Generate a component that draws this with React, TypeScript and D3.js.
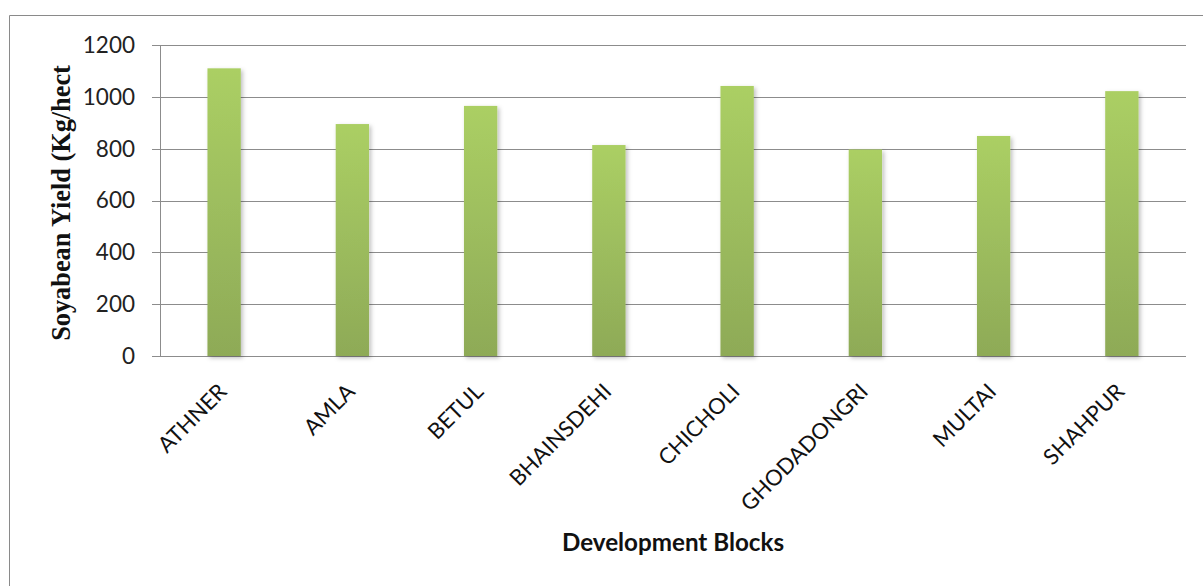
import React from "react";
import * as d3 from "d3";

const categories = ["ATHNER", "AMLA", "BETUL", "BHAINSDEHI", "CHICHOLI", "GHODADONGRI", "MULTAI", "SHAHPUR"];
const yieldValues = [1110, 895, 965, 814, 1042, 797, 849, 1022];
const yTicks = [0, 200, 400, 600, 800, 1000, 1200];
const yTitle = "Soyabean Yield (Kg/hect";
const xTitle = "Development Blocks";

const W = 1203;
const H = 586;
const plot = { left: 160, right: 1186, top: 45, bottom: 356 };

export default function App() {
  const x = d3.scaleBand<string>().domain(categories).range([plot.left, plot.right]).paddingInner(0.74).paddingOuter(0.37);
  const y = d3.scaleLinear().domain([0, 1200]).range([plot.bottom, plot.top]);
  const sans = "Lato, 'Open Sans', sans-serif";
  return (
    <svg width={W} height={H} style={{ position: "absolute", left: 0, top: 0, background: "#fff" }}>
      <defs>
        <linearGradient id="barGrad" x1="0" y1="0" x2="0" y2="1">
          <stop offset="0" stopColor="#abcf64" />
          <stop offset="1" stopColor="#8eaa57" />
        </linearGradient>
        <filter id="shadow" x="-30%" y="-10%" width="160%" height="120%">
          <feDropShadow dx="2" dy="2" stdDeviation="2" floodColor="#000" floodOpacity="0.25" />
        </filter>
      </defs>
      <rect x={0} y={0} width={W} height={H} fill="#fff" />
      {/* outer chart border */}
      <line x1={9.5} y1={15.5} x2={W} y2={15.5} stroke="#8a8a8a" strokeWidth={1} />
      <line x1={9.5} y1={15.5} x2={9.5} y2={H} stroke="#8a8a8a" strokeWidth={1} />
      {/* gridlines */}
      {yTicks.map((t) => (
        <line key={"g" + t} x1={plot.left - 8} x2={plot.right} y1={Math.round(y(t)) + 0.5} y2={Math.round(y(t)) + 0.5} stroke="#8c8c8c" strokeWidth={1} />
      ))}
      {/* y axis line */}
      <line x1={plot.left + 0.5} x2={plot.left + 0.5} y1={plot.top} y2={plot.bottom + 1} stroke="#8c8c8c" strokeWidth={1} />
      {/* bars */}
      {categories.map((c, i) => (
        <rect key={c} x={x(c)} y={y(yieldValues[i])} width={x.bandwidth()} height={y(0) - y(yieldValues[i])} fill="url(#barGrad)" filter="url(#shadow)" />
      ))}
      {/* y tick labels */}
      {yTicks.map((t) => (
        <text key={"t" + t} x={135} y={y(t)} dy="0.35em" textAnchor="end" fontFamily={sans} fontSize={22.5} fill="#222">
          {t}
        </text>
      ))}
      {/* category labels */}
      {categories.map((c) => {
        const cx = (x(c) as number) + x.bandwidth() / 2 + 4;
        const cy = 393;
        return (
          <text key={"c" + c} transform={`translate(${cx},${cy}) rotate(-45)`} textAnchor="end" fontFamily={sans} fontSize={22} fill="#111">
            {c}
          </text>
        );
      })}
      {/* y title */}
      <text transform={`translate(70,203) rotate(-90)`} textAnchor="middle" fontFamily="'Liberation Serif', 'Times New Roman', serif" fontWeight="bold" fontSize={26.3} fill="#111">
        {yTitle}
      </text>
      {/* x title */}
      <text x={(plot.left + plot.right) / 2} y={551} textAnchor="middle" fontFamily={sans} fontWeight="bold" fontSize={24.2} fill="#111">
        {xTitle}
      </text>
    </svg>
  );
}
